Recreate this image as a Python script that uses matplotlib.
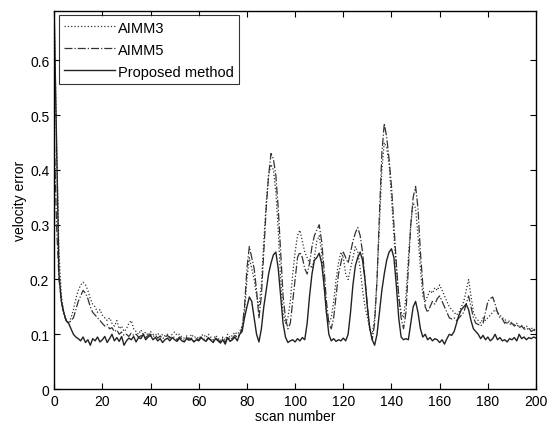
import numpy as np
import matplotlib
matplotlib.use('Agg')
import matplotlib.pyplot as plt

plt.rcParams['font.family'] = ['Liberation Sans', 'DejaVu Sans']

scan = np.arange(0, 201)

aimm3 = [
    0.69, 0.45, 0.25, 0.17, 0.14, 0.125, 0.12, 0.13, 0.145, 0.165,
    0.18, 0.19, 0.195, 0.19, 0.18, 0.165, 0.155, 0.15, 0.14, 0.145,
    0.135, 0.13, 0.125, 0.13, 0.12, 0.115, 0.125, 0.11, 0.115, 0.105,
    0.11, 0.12, 0.125, 0.11, 0.105, 0.1, 0.108, 0.1, 0.104, 0.098,
    0.105, 0.1, 0.098, 0.102, 0.095, 0.1, 0.097, 0.1, 0.095, 0.1,
    0.104, 0.098, 0.1, 0.095, 0.093, 0.097, 0.093, 0.1, 0.094, 0.096,
    0.092, 0.097, 0.1, 0.094, 0.1, 0.095, 0.09, 0.098, 0.093, 0.088,
    0.095, 0.09, 0.1, 0.094, 0.098, 0.104, 0.1, 0.105, 0.115, 0.14,
    0.2, 0.24, 0.22, 0.2, 0.17, 0.15, 0.19, 0.27, 0.34, 0.39,
    0.41, 0.4, 0.36, 0.29, 0.2, 0.14, 0.12, 0.13, 0.16, 0.21,
    0.25, 0.28, 0.29, 0.27, 0.25, 0.24, 0.23, 0.22, 0.24, 0.27,
    0.28, 0.25, 0.19, 0.14, 0.12, 0.13, 0.16, 0.2, 0.23, 0.25,
    0.24, 0.21, 0.2, 0.22, 0.24, 0.26, 0.25, 0.22, 0.18, 0.15,
    0.13, 0.11, 0.1, 0.13, 0.2, 0.3, 0.4, 0.45, 0.44, 0.41,
    0.35, 0.28, 0.22, 0.17, 0.14, 0.13, 0.17, 0.24, 0.3, 0.34,
    0.33, 0.28, 0.22, 0.17, 0.16, 0.17, 0.18, 0.175, 0.185, 0.18,
    0.19, 0.18, 0.17, 0.16, 0.15, 0.145, 0.14, 0.135, 0.14, 0.15,
    0.16, 0.18, 0.2, 0.17, 0.14, 0.13, 0.125, 0.12, 0.13, 0.125,
    0.13, 0.135, 0.14, 0.145, 0.14, 0.135, 0.13, 0.128, 0.12, 0.125,
    0.12, 0.118, 0.12, 0.114, 0.116, 0.112, 0.115, 0.11, 0.112, 0.108,
    0.11,
]

aimm5 = [
    0.47, 0.3, 0.2, 0.16, 0.135, 0.125, 0.12, 0.125, 0.13, 0.145,
    0.16, 0.17, 0.18, 0.175, 0.165, 0.15, 0.14, 0.135, 0.13, 0.125,
    0.12, 0.115, 0.118, 0.11, 0.112, 0.105, 0.108, 0.1, 0.104, 0.098,
    0.1, 0.096, 0.102, 0.098, 0.1, 0.095, 0.097, 0.1, 0.094, 0.098,
    0.1, 0.096, 0.098, 0.093, 0.097, 0.092, 0.095, 0.098, 0.093, 0.096,
    0.094, 0.09, 0.095, 0.092, 0.089, 0.094, 0.091, 0.093, 0.088, 0.092,
    0.09, 0.095, 0.092, 0.088, 0.094, 0.09, 0.087, 0.093, 0.09, 0.086,
    0.092, 0.085, 0.095, 0.09, 0.093, 0.098, 0.095, 0.1, 0.11, 0.15,
    0.22, 0.26, 0.24, 0.22, 0.18, 0.13, 0.17, 0.25, 0.33, 0.39,
    0.43, 0.42, 0.39, 0.33, 0.25, 0.17, 0.13, 0.11, 0.12, 0.16,
    0.2, 0.24, 0.25, 0.24, 0.22, 0.21, 0.23, 0.26, 0.28, 0.29,
    0.3, 0.27, 0.22, 0.16, 0.12, 0.11, 0.13, 0.17, 0.21, 0.23,
    0.25, 0.24, 0.23, 0.25, 0.27, 0.285, 0.295, 0.28, 0.25, 0.2,
    0.15, 0.11, 0.09, 0.12, 0.2, 0.32, 0.43, 0.485, 0.46, 0.42,
    0.37, 0.3, 0.23, 0.17, 0.13, 0.11, 0.14, 0.22, 0.3, 0.35,
    0.37, 0.33, 0.25, 0.19, 0.15, 0.14, 0.15, 0.16, 0.155, 0.165,
    0.17, 0.16, 0.15, 0.14, 0.13, 0.128, 0.13, 0.125, 0.13, 0.135,
    0.14, 0.155, 0.17, 0.15, 0.13, 0.12, 0.118, 0.115, 0.12, 0.14,
    0.16, 0.165, 0.168, 0.155, 0.14, 0.13, 0.128, 0.12, 0.124, 0.118,
    0.12, 0.115, 0.118, 0.112, 0.115, 0.11, 0.108, 0.112, 0.105, 0.108,
    0.105,
]

proposed = [
    0.69, 0.45, 0.21, 0.16, 0.14, 0.125, 0.12, 0.11, 0.1, 0.095,
    0.092, 0.088, 0.095, 0.085, 0.09, 0.08, 0.092, 0.088, 0.095, 0.086,
    0.09, 0.096, 0.085, 0.092, 0.1, 0.088, 0.094, 0.087, 0.096, 0.08,
    0.088, 0.093, 0.09, 0.096, 0.086, 0.094, 0.092, 0.1, 0.09, 0.095,
    0.098, 0.09, 0.094, 0.088, 0.092, 0.085, 0.09, 0.093, 0.088, 0.094,
    0.09, 0.087, 0.093, 0.088, 0.086, 0.092, 0.089, 0.091, 0.086, 0.09,
    0.088, 0.094, 0.09, 0.087, 0.093, 0.089, 0.085, 0.092, 0.088, 0.084,
    0.09, 0.082, 0.094, 0.087, 0.09, 0.095, 0.088, 0.1, 0.105, 0.13,
    0.15, 0.168, 0.16, 0.13, 0.1, 0.086, 0.11, 0.15, 0.18, 0.21,
    0.23, 0.245, 0.25, 0.22, 0.17, 0.12, 0.095, 0.085, 0.088, 0.09,
    0.086, 0.092, 0.088, 0.094, 0.09, 0.12, 0.17, 0.21, 0.235, 0.24,
    0.248, 0.23, 0.19, 0.14, 0.1, 0.088, 0.092, 0.087, 0.09, 0.088,
    0.093, 0.088, 0.1, 0.14, 0.19, 0.225, 0.24, 0.25, 0.235, 0.2,
    0.15, 0.11, 0.09, 0.08, 0.1, 0.14, 0.18, 0.21, 0.235, 0.25,
    0.256, 0.24, 0.19, 0.13, 0.095, 0.09, 0.092, 0.09, 0.12, 0.15,
    0.16, 0.14, 0.11, 0.095, 0.1, 0.09, 0.094, 0.088, 0.092, 0.09,
    0.085, 0.09, 0.082, 0.092, 0.1, 0.098, 0.105, 0.12, 0.135, 0.145,
    0.15, 0.155, 0.145, 0.125, 0.11, 0.105, 0.1, 0.092, 0.098, 0.09,
    0.095, 0.088, 0.092, 0.1, 0.09, 0.094, 0.088, 0.09, 0.086, 0.092,
    0.09, 0.094, 0.088, 0.1, 0.092, 0.095, 0.09, 0.094, 0.092, 0.095,
    0.093,
]

fig = plt.figure(figsize=(5.47, 4.31), dpi=100)
ax = fig.add_axes([0.099, 0.095, 0.881, 0.877])

ax.plot(scan, aimm3, ':', color='#333333', lw=0.9, label='AIMM3')
ax.plot(scan, aimm5, '-.', color='#333333', lw=0.9, label='AIMM5')
ax.plot(scan, proposed, '-', color='#222222', lw=1.0, label='Proposed method')

ax.set_xlim(0, 200)
ax.set_ylim(0, 0.69)
ax.set_xticks(np.arange(0, 201, 20))
ax.set_yticks([0, 0.1, 0.2, 0.3, 0.4, 0.5, 0.6])
ax.set_yticklabels(['0', '0.1', '0.2', '0.3', '0.4', '0.5', '0.6'])
ax.tick_params(direction='in', top=True, right=True, labelsize=10, length=4)
for s in ax.spines.values():
    s.set_linewidth(1.0)

ax.set_xlabel('scan number', fontsize=10, labelpad=1)
ax.set_ylabel('velocity error', fontsize=10, labelpad=2)

leg = ax.legend(loc='upper left', fontsize=10.5, frameon=True, fancybox=False,
                edgecolor='black', handlelength=3.5, handletextpad=0.2,
                borderaxespad=0.3, labelspacing=0.55, borderpad=0.35)
leg.get_frame().set_linewidth(0.8)

fig.savefig('out.png', dpi=100)
